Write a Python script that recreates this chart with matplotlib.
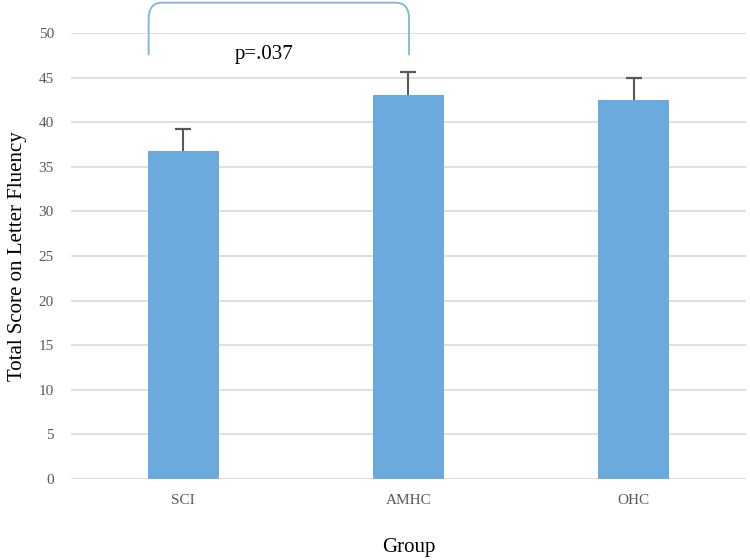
"""Bar chart of letter fluency total scores by group, with error bars and a significance bracket."""

import matplotlib
matplotlib.use("Agg")
import matplotlib.pyplot as plt
from matplotlib.path import Path
from matplotlib.patches import PathPatch

# Data
groups = ["SCI", "AMHC", "OHC"]
means = [36.8, 43.1, 42.5]
errors = [2.4, 2.5, 2.5]
y_ticks = list(range(0, 51, 5))
p_label = "p=.037"

bar_color = "#6AAADC"
grid_color = "#D9D9D9"
text_gray = "#595959"

plt.rcParams["font.family"] = ["Liberation Serif", "DejaVu Serif"]

fig = plt.figure(figsize=(7.5, 5.6), dpi=100)
ax = fig.add_axes([0.094, 0.1446, 0.901, 0.7965])

x = list(range(len(groups)))
tops = [m + e for m, e in zip(means, errors)]
ax.bar(x, means, width=0.315, color=bar_color, zorder=2)
# one-sided (upper) error bars
ax.vlines(x, means, tops, color=text_gray, linewidth=1.5, zorder=3)
ax.plot(x, tops, linestyle="none", marker="_", markersize=11,
        markeredgewidth=1.6, color=text_gray, zorder=3)

ax.set_xlim(-0.5, len(groups) - 0.5)
ax.set_ylim(0, 50)
ax.set_yticks(y_ticks)
ax.set_xticks(x)
ax.set_xticklabels(groups)
ax.yaxis.grid(True, color=grid_color, linewidth=1.2, zorder=0)
ax.set_axisbelow(True)
for side in ["top", "right", "left", "bottom"]:
    ax.spines[side].set_visible(False)
ax.tick_params(axis="y", length=0, labelsize=11, labelcolor=text_gray, pad=12)
ax.tick_params(axis="x", length=0, labelsize=11, labelcolor=text_gray, pad=11)

ax.set_ylabel("Total Score on Letter Fluency", fontsize=15, labelpad=8)
ax.set_xlabel("Group", fontsize=15, labelpad=22)

# Significance bracket between SCI and AMHC
x0, x1 = -0.153, 1.003
y0, y1 = 47.5, 53.4
rx, ry = 0.06, 1.8
verts = [(x0, y0), (x0, y1 - ry), (x0, y1), (x0 + rx, y1),
         (x1 - rx, y1), (x1, y1), (x1, y1 - ry), (x1, y0)]
codes = [Path.MOVETO, Path.LINETO, Path.CURVE3, Path.CURVE3,
         Path.LINETO, Path.CURVE3, Path.CURVE3, Path.LINETO]
bracket = PathPatch(Path(verts, codes), facecolor="none", edgecolor="#7FB3DD",
                    linewidth=1.3, clip_on=False, zorder=4)
ax.add_patch(bracket)
ax.text(0.36, 47.6, p_label, ha="center", va="center", fontsize=15)

fig.savefig("out.png", dpi=100)
